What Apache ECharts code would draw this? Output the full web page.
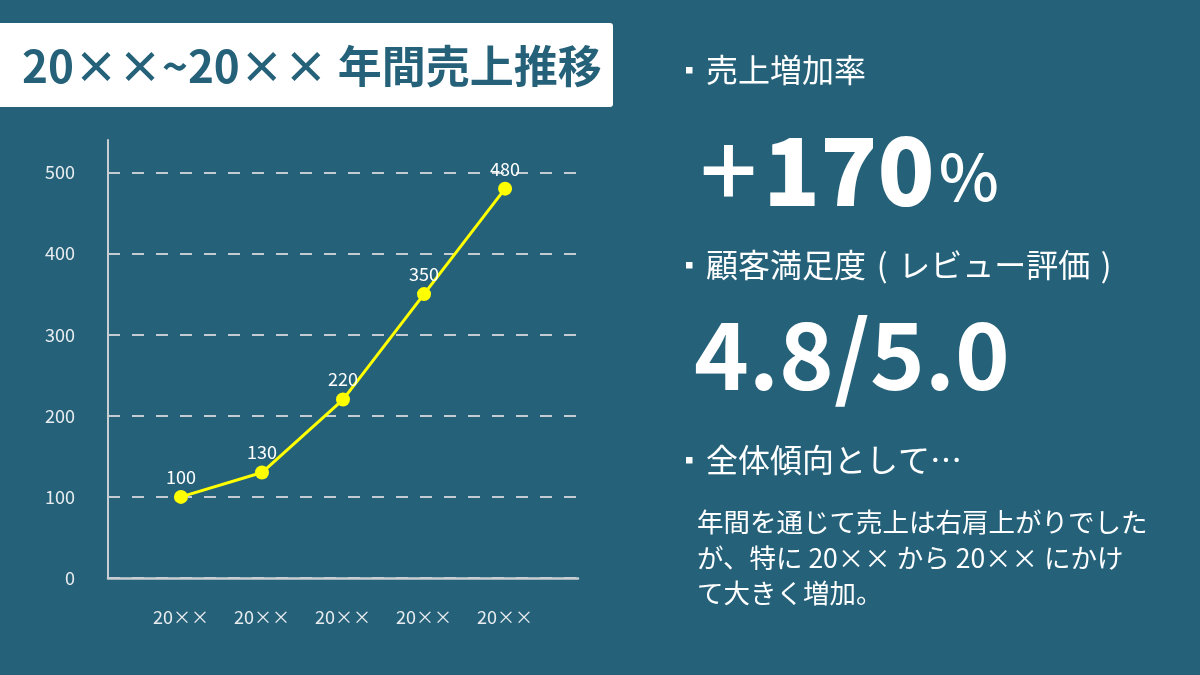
<!DOCTYPE html>
<html>
<head>
<meta charset="utf-8">
<script src="https://cdn.jsdelivr.net/npm/echarts@6/dist/echarts.min.js"></script>
<style>
html,body{margin:0;padding:0;background:#25627a;}
#chart{width:1200px;height:675px;}
</style>
</head>
<body>
<div id="chart"></div>
<script>
const categories = ['20××', '20××', '20××', '20××', '20××'];
const sales = [100, 130, 220, 350, 480];
const yTickValues = [0, 100, 200, 300, 400, 500];
const titleText = '20××~20×× 年間売上推移';
const growthLabel = '売上増加率';
const growthSign = '+';
const growthNumber = '170';
const satisfactionLabel = '顧客満足度\u2004(\u2004レビュー評価\u2004)';
const satisfactionValue = '4.8/5.0';
const trendLabel = '全体傾向として…';
const trendLines = ['年間を通じて売上は右肩上がりでした', 'が、特に 20×× から 20×× にかけ', 'て大きく増加。'];

const FONT = '"Noto Sans CJK JP", "Noto Sans", sans-serif';
const BG = '#25627a';
const AXIS = '#c9ced3';

const chart = echarts.init(document.getElementById('chart'), null, {renderer: 'canvas'});

const bullets = [70, 265, 460].map(y => ({
  type: 'rect', shape: {x: 686, y: y - 3, width: 6.5, height: 6.5}, style: {fill: '#ffffff'}
}));

const option = {
  backgroundColor: BG,
  textStyle: {fontFamily: FONT},
  animation: false,
  grid: {left: 108, right: 622, top: 140, bottom: 97, containLabel: false},
  xAxis: {
    type: 'value', min: -0.9, max: 4.9,
    axisLine: {show: true, onZero: false, lineStyle: {color: AXIS, width: 2.5}},
    axisTick: {show: false},
    splitLine: {show: false},
    axisLabel: {
      customValues: [0, 1, 2, 3, 4],
      formatter: v => categories[Math.round(v)],
      color: '#e8ecef', fontSize: 18, fontFamily: FONT, margin: 30
    }
  },
  yAxis: {
    type: 'value', min: 0, max: 540,
    axisLine: {show: true, onZero: false, lineStyle: {color: AXIS, width: 2}},
    axisTick: {show: false, customValues: yTickValues},
    splitLine: {show: true, lineStyle: {color: '#c3cbd3', width: 2, type: [12, 12]}},
    axisLabel: {customValues: yTickValues, color: '#e8ecef', fontSize: 18, fontFamily: FONT, margin: 33}
  },
  series: [{
    type: 'line',
    data: sales.map((v, i) => [i, v]),
    symbol: 'circle', symbolSize: 14,
    itemStyle: {color: '#ffff00'},
    lineStyle: {color: '#ffff00', width: 3},
    label: {show: true, position: 'top', distance: 4, color: '#ffffff', fontSize: 18, fontFamily: FONT}
  }],
  graphic: [
    {type: 'rect', shape: {x: -5, y: 23, width: 618, height: 84, r: 3}, style: {fill: '#ffffff'}},
    {type: 'text', x: 22, y: 66, style: {text: titleText, fill: '#25627a', font: 'bold 44px ' + FONT, verticalAlign: 'middle'}},
    ...bullets,
    {type: 'text', x: 706, y: 70, style: {text: growthLabel, fill: '#ffffff', font: '32px ' + FONT, verticalAlign: 'middle'}},
    {type: 'text', x: 700, y: 170, style: {
      text: '{s|' + growthSign + '}{a|' + growthNumber + '}{b|%}', verticalAlign: 'middle',
      rich: {
        s: {fill: '#ffffff', font: '500 100px ' + FONT, padding: [0, 6, 0, 0]},
        a: {fill: '#ffffff', font: '900 94px ' + FONT},
        b: {fill: '#ffffff', font: '500 64px ' + FONT, padding: [14, 0, 0, 4]}
      }
    }},
    {type: 'text', x: 706, y: 265, style: {text: satisfactionLabel, fill: '#ffffff', font: '32px ' + FONT, verticalAlign: 'middle'}},
    {type: 'text', x: 694, y: 355, style: {text: satisfactionValue, fill: '#ffffff', font: 'bold 93px ' + FONT, verticalAlign: 'middle'}},
    {type: 'text', x: 706, y: 460, style: {text: trendLabel, fill: '#ffffff', font: '32px ' + FONT, verticalAlign: 'middle'}},
    ...trendLines.map((t, i) => ({type: 'text', x: 697, y: 522 + i * 35.5, style: {text: t, fill: '#ffffff', font: '26.5px ' + FONT, verticalAlign: 'middle'}}))
  ]
};
chart.setOption(option);
</script>
</body>
</html>
